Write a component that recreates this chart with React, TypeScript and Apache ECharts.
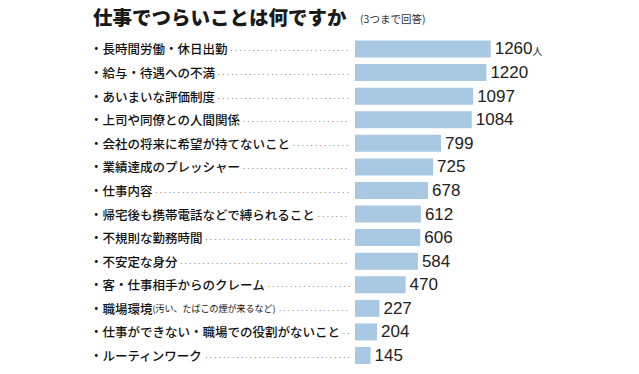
import React, { useEffect, useRef } from "react";
import * as echarts from "echarts";

const TITLE = "仕事でつらいことは何ですか";
const SUBTITLE = "(3つまで回答)";
const UNIT = "人";
const categories = [
  "長時間労働・休日出勤",
  "給与・待遇への不満",
  "あいまいな評価制度",
  "上司や同僚との人間関係",
  "会社の将来に希望が持てないこと",
  "業績達成のプレッシャー",
  "仕事内容",
  "帰宅後も携帯電話などで縛られること",
  "不規則な勤務時間",
  "不安定な身分",
  "客・仕事相手からのクレーム",
  "職場環境",
  "仕事ができない・職場での役割がないこと",
  "ルーティンワーク",
];
const categoryNotes = ["", "", "", "", "", "", "", "", "", "", "", "(汚い、たばこの煙が来るなど)", "", ""];
const values = [1260, 1220, 1097, 1084, 799, 725, 678, 612, 606, 584, 470, 227, 204, 145];

const DOTS = ". ".repeat(80);

export default function App() {
  const ref = useRef<HTMLDivElement>(null);
  useEffect(() => {
    const chart = echarts.init(ref.current!, null, { renderer: "svg" });
    const jp = "'Noto Sans CJK JP', 'Noto Sans', sans-serif";
    chart.setOption({
      animation: false,
      backgroundColor: "#ffffff",
      title: [
        {
          text: TITLE,
          left: 93,
          top: 7,
          padding: 0,
          textStyle: { fontFamily: jp, fontSize: 19.5, fontWeight: 900, color: "#1a1a1a" },
        },
        {
          text: SUBTITLE,
          left: 360,
          top: 13,
          padding: 0,
          textStyle: { fontFamily: jp, fontSize: 10.5, fontWeight: "normal", color: "#333" },
        },
      ],
      grid: { left: 355, right: 148.3, top: 37.2, bottom: 6.7, containLabel: false },
      xAxis: {
        type: "value",
        min: 0,
        max: 1260,
        show: false,
      },
      yAxis: {
        type: "category",
        inverse: true,
        data: categories,
        axisLine: { show: false },
        axisTick: { show: false },
        splitLine: { show: false },
        axisLabel: {
          margin: 265,
          align: "left",
          width: 262,
          overflow: "truncate",
          ellipsis: "",
          formatter: (v: string, i: number) =>
            categoryNotes[i]
              ? `{a|・${v}}{s|${categoryNotes[i]}} {d|${DOTS}}`
              : `{a|・${v} }{d|${DOTS}}`,
          rich: {
            a: { fontFamily: jp, fontSize: 12.5, color: "#111", fontWeight: 500 },
            s: { fontFamily: jp, fontSize: 9, color: "#111" },
            d: { fontFamily: "'Liberation Sans', sans-serif", fontSize: 8, color: "#444" },
          },
        },
      },
      series: [
        {
          type: "bar",
          data: values,
          barWidth: 17,
          itemStyle: { color: "#a9c9e3" },
          label: {
            show: true,
            position: "right",
            distance: 4,
            formatter: (p: any) =>
              p.dataIndex === 0 ? `{v|${p.value}}{u|${UNIT}}` : `{v|${p.value}}`,
            rich: {
              v: { fontFamily: "'Liberation Sans', Arial, sans-serif", fontSize: 17, color: "#222" },
              u: { fontFamily: jp, fontSize: 10, color: "#222", padding: [4, 0, 0, 0] },
            },
          },
        },
      ],
    });
    return () => chart.dispose();
  }, []);
  return (
    <div
      ref={ref}
      style={{ position: "absolute", left: 0, top: 0, width: 639, height: 374 }}
    />
  );
}
